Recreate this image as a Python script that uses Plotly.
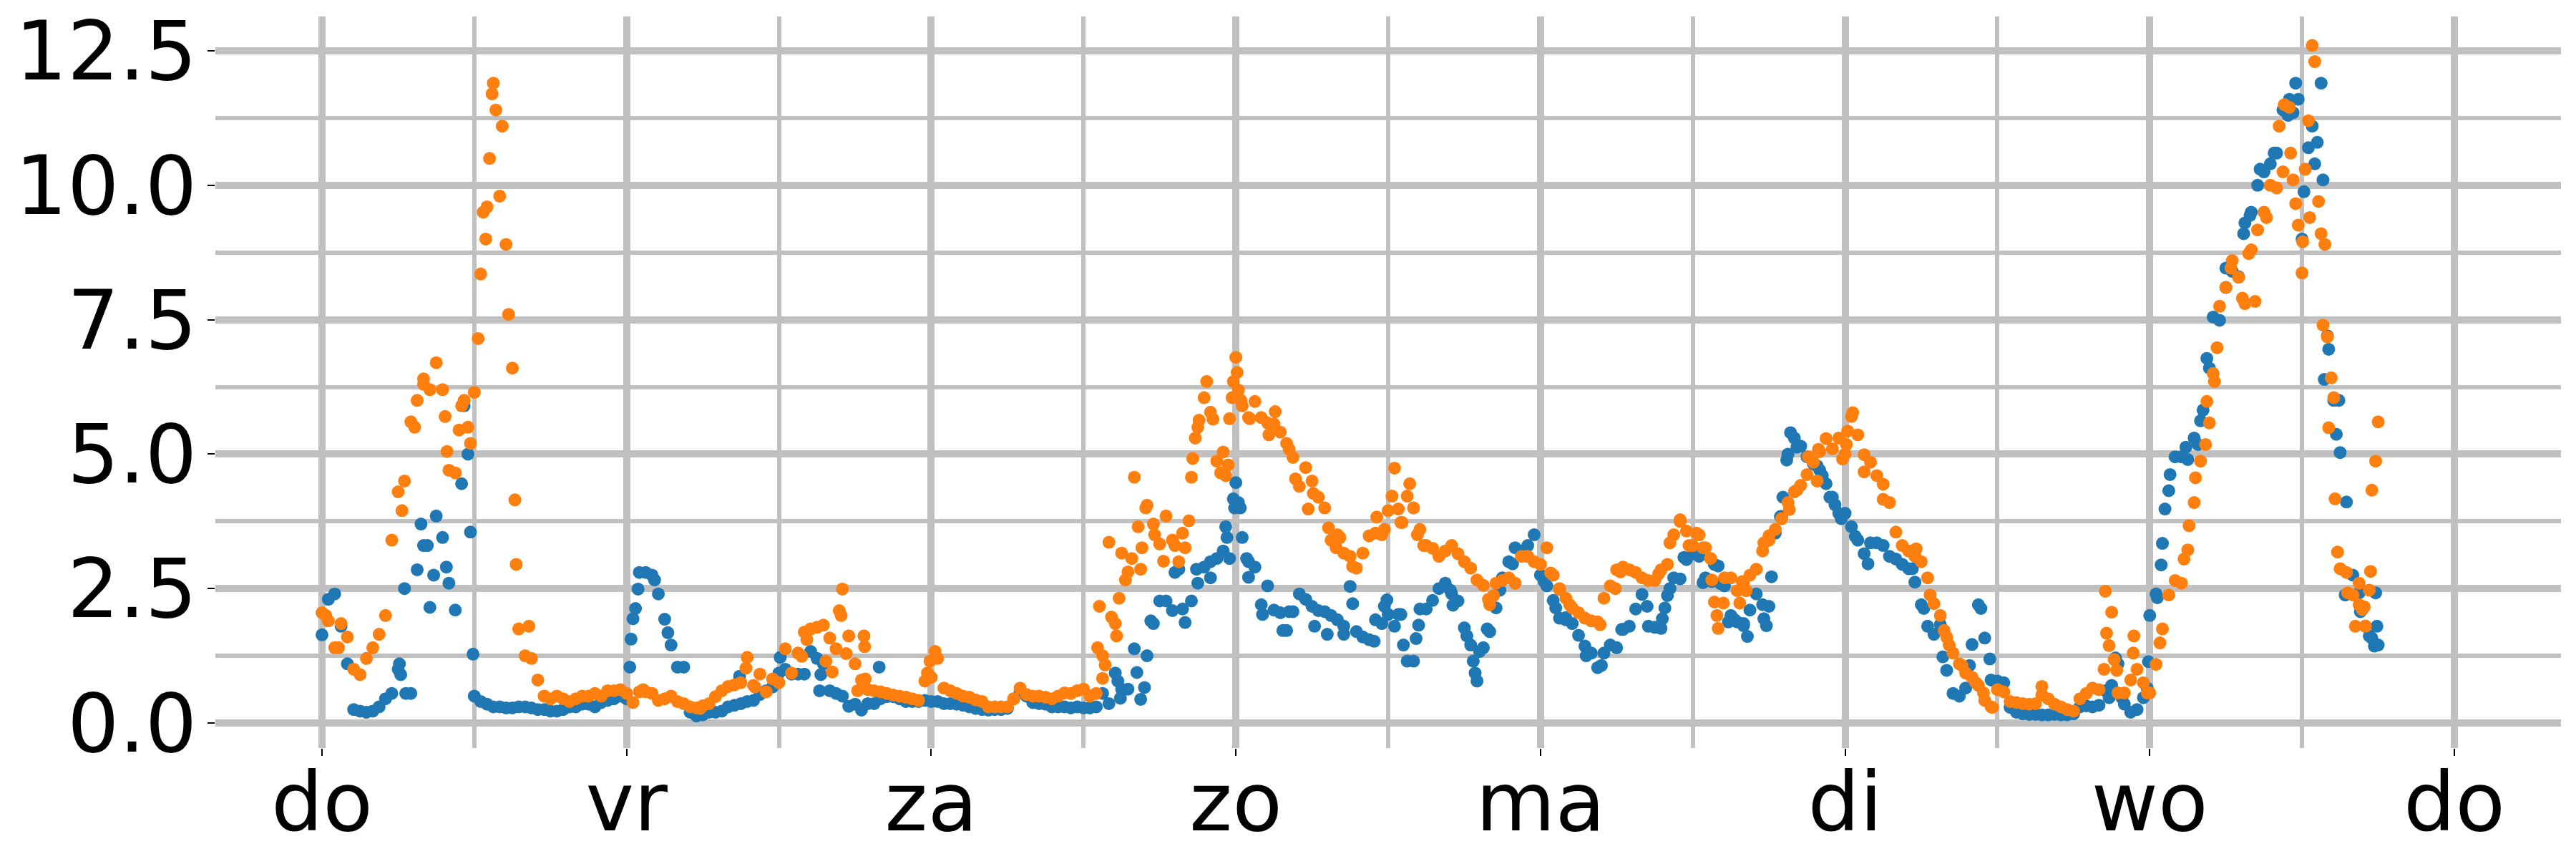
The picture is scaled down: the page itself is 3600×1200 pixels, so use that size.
import plotly.graph_objects as go

# ---------------- data ----------------
STEP_HOURS = 0.5  # regular readings every half hour, starting Thursday 00:00

day_ticks = [0, 1, 2, 3, 4, 5, 6, 7]
day_labels = ["do", "vr", "za", "zo", "ma", "di", "wo", "do"]
y_ticks = [0.0, 2.5, 5.0, 7.5, 10.0, 12.5]

blue_values = [
    # do
    1.64, 2.3, 2.4, 1.8, 1.1, 0.25, 0.22, 0.2, 0.22, 0.3, 0.45, 0.55, 1.0, 2.5, 0.55, 2.85,
    3.3, 2.15, 3.85, 3.45, 2.6, 2.1, 4.45, 5.0, 0.5, 0.4, 0.35, 0.3, 0.3, 0.28, 0.28, 0.3,
    0.3, 0.28, 0.25, 0.25, 0.22, 0.22, 0.25, 0.3, 0.3, 0.35, 0.35, 0.3, 0.38, 0.42, 0.45, 0.5,
    # vr
    0.45, 1.94, 2.8, 2.8, 2.75, 2.4, 1.93, 1.45, 1.04, 1.04, 0.2, 0.13, 0.15, 0.2, 0.2, 0.22,
    0.3, 0.33, 0.36, 0.4, 0.42, 0.53, 0.6, 0.67, 0.93, 1.0, 0.91, 0.91, 0.91, 1.33, 1.2, 1.1,
    0.6, 0.55, 0.5, 0.31, 0.35, 0.24, 0.36, 0.36, 0.45, 0.49, 0.49, 0.45, 0.4, 0.4, 0.4, 0.42,
    # za
    0.4, 0.4, 0.36, 0.36, 0.35, 0.33, 0.3, 0.27, 0.25, 0.24, 0.25, 0.25, 0.27, 0.45, 0.6, 0.5,
    0.38, 0.36, 0.35, 0.3, 0.3, 0.3, 0.28, 0.3, 0.28, 0.28, 0.3, 0.55, 0.36, 0.93, 0.63, 0.63,
    1.38, 0.44, 1.25, 1.85, 2.27, 2.27, 2.09, 2.86, 1.87, 2.27, 2.6, 2.9, 2.7, 3.06, 3.2, 3.06,
    # zo
    4.47, 3.45, 3.0, 2.9, 2.2, 2.55, 2.1, 2.05, 1.72, 2.07, 2.4, 2.3, 2.17, 2.09, 2.07, 2.0,
    1.92, 1.8, 2.54, 1.7, 1.6, 1.55, 1.92, 1.85, 2.02, 1.8, 2.02, 1.15, 1.15, 2.12, 2.12, 2.28,
    2.5, 2.6, 2.4, 2.27, 1.77, 1.45, 0.78, 1.4, 1.7, 2.14, 2.7, 3.0, 3.26, 3.2, 3.3, 3.5,
    # ma
    2.75, 2.55, 2.28, 1.95, 1.92, 1.85, 1.63, 1.43, 1.3, 1.03, 1.3, 1.45, 1.4, 1.74, 1.8, 2.12,
    2.39, 1.8, 1.78, 1.76, 2.37, 2.7, 2.68, 3.04, 3.15, 3.1, 2.7, 2.63, 2.92, 2.55, 2.0, 1.88,
    1.85, 2.1, 2.4, 2.2, 2.17, 3.53, 3.84, 5.0, 5.3, 5.15, 4.95, 4.82, 4.7, 4.45, 4.2, 3.9,
    # di
    3.9, 3.65, 3.4, 3.15, 3.35, 3.35, 3.3, 3.1, 3.05, 2.95, 2.87, 2.62, 2.2, 1.8, 1.65, 1.83,
    0.98, 0.55, 0.5, 0.65, 1.46, 2.2, 1.58, 0.8, 0.78, 0.75, 0.29, 0.2, 0.17, 0.16, 0.16, 0.15,
    0.15, 0.16, 0.15, 0.15, 0.17, 0.3, 0.32, 0.3, 0.33, 0.6, 0.7, 1.1, 0.35, 0.2, 0.25, 0.47,
    # wo
    2.0, 2.4, 3.34, 4.32, 4.95, 4.95, 4.9, 5.3, 5.62, 6.78, 7.55, 7.49, 8.1, 8.4, 8.3, 9.3,
    9.5, 10.0, 10.25, 10.4, 10.6, 11.4, 11.6, 11.9, 9.0, 10.7, 10.4, 11.9, 7.2, 6.0, 5.03, 4.11,
    2.75, 2.42, 1.8, 1.58, 1.45,
]

orange_values = [
    # do
    2.05, 1.9, 1.4, 1.85, 1.6, 1.0, 0.9, 1.2, 1.4, 1.65, 2.0, 3.4, 4.3, 4.5, 5.6, 6.0,
    6.3, 6.2, 6.7, 6.2, 4.7, 4.65, 5.9, 5.5, 6.15, 8.35, 9.6, 11.9, 9.8, 8.9, 6.6, 1.75,
    1.25, 1.2, 0.8, 0.5, 0.45, 0.5, 0.45, 0.4, 0.45, 0.5, 0.5, 0.55, 0.5, 0.6, 0.6, 0.62,
    # vr
    0.55, 0.38, 0.58, 0.58, 0.55, 0.42, 0.45, 0.5, 0.4, 0.36, 0.3, 0.28, 0.32, 0.36, 0.49, 0.6,
    0.68, 0.71, 0.75, 1.22, 0.7, 0.91, 0.58, 0.82, 0.75, 1.38, 0.93, 1.3, 1.69, 1.75, 1.78, 1.82,
    1.58, 1.38, 2.49, 1.62, 1.1, 0.8, 0.62, 0.6, 0.58, 0.55, 0.52, 0.5, 0.48, 0.45, 0.42, 0.78,
    # za
    0.85, 1.2, 0.65, 0.6, 0.55, 0.5, 0.48, 0.43, 0.4, 0.3, 0.3, 0.3, 0.3, 0.45, 0.65, 0.53,
    0.5, 0.5, 0.48, 0.45, 0.5, 0.56, 0.55, 0.6, 0.63, 0.5, 0.55, 1.25, 3.36, 1.85, 3.16, 2.81,
    4.57, 2.86, 4.05, 3.7, 3.33, 3.85, 3.4, 3.0, 3.26, 4.57, 5.5, 6.05, 5.78, 4.87, 5.04, 5.66,
    # zo
    6.8, 5.9, 5.68, 5.98, 5.68, 5.58, 5.56, 5.41, 5.2, 4.94, 4.4, 4.75, 4.5, 4.2, 4.0, 3.4,
    3.5, 3.16, 3.1, 2.88, 3.16, 3.48, 3.53, 3.5, 3.95, 4.74, 3.73, 4.22, 4.0, 3.6, 3.3, 3.25,
    3.1, 3.2, 3.3, 3.15, 3.0, 2.88, 2.66, 2.56, 2.2, 2.6, 2.65, 2.7, 2.6, 3.1, 3.1, 3.0,
    # ma
    2.95, 3.26, 2.75, 2.5, 2.32, 2.14, 2.05, 1.95, 1.9, 1.88, 2.32, 2.55, 2.85, 2.9, 2.85, 2.8,
    2.7, 2.65, 2.65, 2.85, 2.95, 3.5, 3.78, 3.57, 3.3, 3.5, 3.26, 2.66, 1.76, 2.7, 2.7, 2.46,
    2.6, 2.75, 2.86, 3.2, 3.4, 3.6, 3.8, 4.1, 4.3, 4.42, 4.62, 4.85, 5.05, 5.29, 5.1, 5.3,
    # di
    5.0, 5.7, 5.36, 4.99, 4.85, 4.6, 4.44, 4.1, 3.55, 3.3, 3.2, 3.1, 3.0, 2.7, 2.22, 2.0,
    1.6, 1.3, 1.1, 0.93, 0.85, 0.7, 0.42, 0.3, 0.62, 0.58, 0.4, 0.38, 0.36, 0.35, 0.36, 0.68,
    0.45, 0.35, 0.3, 0.25, 0.22, 0.45, 0.55, 0.65, 0.62, 2.45, 2.06, 0.56, 0.56, 0.8, 1.0, 0.75,
    # wo
    0.56, 1.09, 1.75, 2.38, 2.65, 2.6, 3.22, 4.1, 4.87, 5.98, 6.5, 7.75, 8.1, 8.6, 8.29, 7.8,
    8.8, 9.17, 9.5, 10.0, 9.95, 10.25, 11.45, 9.66, 8.37, 11.2, 12.3, 9.1, 7.18, 6.05, 2.87, 2.8,
    2.38, 2.2, 1.8, 4.33, 5.6,
]

# additional readings in between the half-hour marks (hours since Thursday 00:00)
blue_extra_hours = [
    6.1, 6.2, 6.6, 7.8, 8.3, 8.8, 9.8, 11.2, 11.7, 11.9,
    24.25, 24.35, 24.7, 24.9, 26.2, 27.25, 32.9, 36.1, 39.2, 39.3, 43.9,
    62.7, 62.9, 64.2, 64.8, 65.3, 67.2, 67.8, 68.9, 70.0, 71.2, 71.3, 71.8, 71.9,
    72.2, 72.35, 72.85, 73.0, 74.1, 75.7, 76.2, 78.2, 79.2, 80.5, 81.2, 82.9, 83.7, 83.9,
    84.8, 85.2, 86.2, 86.4, 88.9, 89.1, 90.2, 90.7, 90.85, 91.2, 91.8, 92.8, 93.8,
    96.3, 97.2, 98.0, 99.6, 100.8, 102.4, 104.4, 105.6, 105.8, 106.2, 107.3, 108.8, 109.7,
    110.2, 110.8, 111.3, 112.0, 112.3, 113.6, 113.8, 114.2, 114.9, 115.1, 115.4, 115.7,
    116.2, 117.8, 118.2, 118.8, 119.2, 119.7,
    120.8, 121.8, 125.3, 126.2, 127.7, 129.8, 130.7, 131.4, 140.8, 141.3, 141.8, 143.8, 143.9,
    144.6, 144.9, 145.2, 145.6, 146.85, 147.8, 148.2, 148.7, 150.0, 151.4, 151.9, 152.7,
    153.8, 154.9, 155.3, 155.7, 156.15, 156.8, 157.2, 157.65, 157.75, 158.1, 158.7, 158.9,
    159.4, 160.6, 161.3, 161.7, 161.9, 161.8,
]
blue_extra_values = [
    1.1, 0.9, 0.55, 3.7, 3.3, 2.75, 2.9, 5.9, 3.55, 1.28,
    1.04, 1.56, 2.13, 2.49, 2.66, 1.68, 0.87, 1.22, 0.6, 0.9, 1.04,
    0.78, 0.46, 0.94, 0.66, 1.9, 2.8, 2.12, 2.86, 3.0, 3.65, 3.45, 4.17, 4.0,
    4.1, 4.0, 3.06, 2.71, 2.02, 1.72, 2.07, 1.8, 1.65, 1.65, 2.22, 1.52, 2.17, 2.29,
    2.02, 1.45, 1.57, 1.82, 2.47, 2.19, 1.62, 1.15, 0.93, 1.33, 1.75, 2.47, 2.96,
    2.63, 2.14, 1.96, 1.25, 1.07, 1.74, 2.17, 1.94, 2.14, 2.5, 3.08, 2.61, 2.95,
    2.59, 1.88, 1.92, 1.81, 1.61, 1.94, 1.81, 2.72, 3.84, 4.2, 4.89, 5.4,
    5.13, 4.78, 4.6, 4.2, 4.06, 3.8,
    3.47, 2.96, 2.87, 2.13, 1.23, 1.07, 2.13, 1.19, 0.47, 1.21, 0.47, 0.65, 1.14,
    2.33, 2.94, 3.98, 4.62, 5.13, 5.18, 5.82, 6.6, 8.46, 9.1, 9.44, 10.3,
    10.6, 11.3, 11.35, 11.6, 9.88, 11.1, 10.8, 10.1, 6.39, 6.95, 5.37, 6.0,
    2.38, 2.07, 1.62, 1.43, 1.8, 2.42,
]

orange_extra_hours = [
    0.3, 1.3, 6.3, 7.3, 8.0, 9.7, 9.85, 10.8, 11.2, 11.7, 12.3, 12.7, 12.9, 13.2, 13.4,
    13.7, 14.2, 14.7, 15.2, 15.3, 16.3,
    25.3, 29.8, 33.4, 34.1, 37.8, 38.2, 39.7, 40.2, 40.75, 40.9, 41.3, 42.2, 42.7, 42.75,
    42.8, 47.7, 47.9,
    48.3, 61.1, 61.25, 61.5, 61.7, 62.2, 62.6, 62.8, 63.3, 63.8, 64.3, 64.6, 64.9, 65.6,
    66.3, 67.2, 67.8, 68.3, 68.6, 68.8, 69.1, 69.7, 70.2, 70.8, 71.2, 71.4, 71.7, 71.8,
    72.1, 72.2, 72.4, 73.1, 74.6, 75.1, 76.2, 76.7, 77.7, 78.1, 79.3, 79.9, 80.2, 81.2,
    83.1, 83.7, 84.3, 84.8, 85.1, 85.7, 86.3, 86.8, 91.9, 92.3, 94.9,
    96.8, 97.5, 98.3, 100.7, 101.9, 102.3, 105.3, 106.2, 107.0, 107.7, 108.3, 108.8, 109.4,
    109.7, 109.9, 110.4, 111.7, 111.9, 112.2, 113.6, 114.0, 115.6, 116.2, 117.1, 117.8,
    117.9, 119.8,
    120.2, 120.1, 120.6, 121.5, 123.0, 125.6, 126.7, 127.8, 128.2, 129.2, 130.3, 130.9,
    131.6, 135.5, 140.4, 140.6, 140.8, 141.2, 141.4, 142.7, 142.75, 143.8,
    144.8, 146.7, 147.1, 147.6, 148.4, 148.7, 149.3, 149.1, 150.4, 151.3, 152.3, 151.8,
    153.2, 154.2, 154.6, 155.1, 155.3, 155.7, 156.05, 156.25, 156.6, 156.8, 157.3, 157.8,
    157.65, 158.1, 158.3, 158.6, 158.8, 159.6, 160.2, 160.5, 160.75, 161.3, 161.4, 161.8,
    160.9,
]
orange_extra_values = [
    2.0, 1.4, 3.95, 5.5, 6.4, 5.7, 5.05, 5.45, 6.0, 5.2, 7.15, 9.5, 9.0, 10.5, 11.7,
    11.4, 11.1, 7.6, 4.15, 2.95, 1.8,
    0.62, 0.27, 1.02, 0.67, 1.24, 1.55, 1.15, 0.95, 2.09, 2.0, 1.29, 0.6, 1.62, 1.42,
    0.82, 0.93, 1.15,
    1.33, 1.4, 2.17, 0.83, 1.08, 1.97, 1.62, 2.32, 2.66, 3.06, 3.65, 3.26, 4.0, 3.5,
    3.01, 3.3, 3.53, 3.76, 4.92, 5.3, 5.63, 6.35, 5.65, 4.65, 4.6, 4.8, 6.05, 6.35,
    6.52, 6.19, 6.0, 5.66, 5.36, 5.79, 5.09, 4.54, 3.98, 4.27, 3.63, 3.26, 3.45, 2.91,
    3.83, 3.6, 4.22, 3.98, 3.73, 4.45, 3.5, 3.3, 2.3, 2.37, 3.1,
    2.79, 2.48, 2.2, 1.83, 2.5, 2.81, 2.77, 3.35, 3.75, 3.3, 3.53, 3.26, 3.06,
    2.25, 2.0, 2.23, 2.23, 2.63, 2.46, 3.35, 3.48, 3.97, 4.33, 4.95, 4.5,
    5.09, 4.91,
    5.43, 5.18, 5.77, 4.67, 4.16, 3.24, 2.38, 1.72, 1.45, 1.07, 0.75, 0.56,
    0.29, 0.52, 1.0, 1.67, 1.44, 1.18, 0.98, 1.3, 1.62, 0.56,
    1.49, 3.05, 3.67, 4.56, 5.18, 5.58, 6.98, 6.35, 8.46, 7.9, 7.84, 8.73,
    9.4, 11.1, 11.5, 10.6, 10.1, 9.26, 8.95, 10.3, 9.4, 12.6, 9.7, 8.9,
    7.4, 5.49, 6.42, 4.17, 3.18, 2.42, 1.8, 2.6, 2.11, 2.47, 2.82, 4.87,
    2.16,
]

BLUE = "#1f77b4"
ORANGE = "#ff7f0e"
GRID = "#c0c0c0"


def to_days(hours):
    return [h / 24.0 for h in hours]


def regular_days(n):
    return [i * STEP_HOURS / 24.0 for i in range(n)]


blue_x = regular_days(len(blue_values)) + to_days(blue_extra_hours)
blue_y = blue_values + blue_extra_values
orange_x = regular_days(len(orange_values)) + to_days(orange_extra_hours)
orange_y = orange_values + orange_extra_values

fig = go.Figure()
fig.add_trace(go.Scatter(x=blue_x, y=blue_y, mode="markers",
                         marker=dict(color=BLUE, size=18, line=dict(width=0)),
                         name="blue", hoverinfo="skip"))
fig.add_trace(go.Scatter(x=orange_x, y=orange_y, mode="markers",
                         marker=dict(color=ORANGE, size=18, line=dict(width=0)),
                         name="orange", hoverinfo="skip"))

axis_common = dict(
    automargin=False,
    showgrid=True, gridcolor=GRID, gridwidth=10,
    zeroline=False, showline=False,
    ticks="outside", ticklen=10, tickwidth=2, tickcolor="black",
    tickfont=dict(family="DejaVu Sans", size=114, color="black"),
)

fig.update_layout(
    width=3600, height=1200,
    margin=dict(l=301, r=21, t=23, b=155, pad=0),
    plot_bgcolor="white", paper_bgcolor="white",
    showlegend=False,
    font=dict(family="DejaVu Sans", size=114, color="black"),
    xaxis=dict(
        range=[-0.35, 7.35],
        tickmode="array", tickvals=day_ticks, ticktext=day_labels,
        minor=dict(tickmode="linear", tick0=0, dtick=0.5, showgrid=True,
                   gridcolor=GRID, gridwidth=5.5, ticks=""),
        ticklabelstandoff=-33,
        **axis_common,
    ),
    yaxis=dict(
        range=[-0.466, 13.14],
        tickmode="array", tickvals=y_ticks, ticktext=[f"{v:.1f}" for v in y_ticks],
        minor=dict(tickmode="linear", tick0=0, dtick=1.25, showgrid=True,
                   gridcolor=GRID, gridwidth=5.5, ticks=""),
        ticklabelstandoff=-8,
        **axis_common,
    ),
)

fig.write_html("out.html")
